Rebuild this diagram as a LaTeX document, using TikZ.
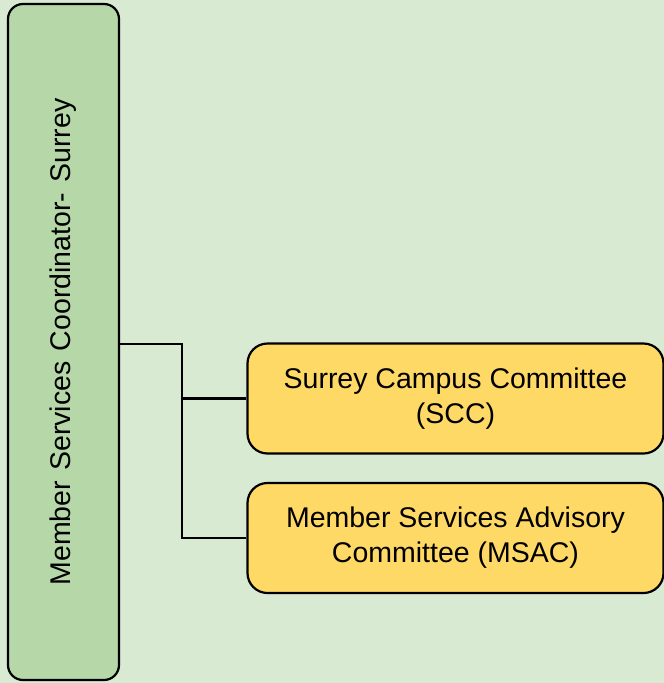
\documentclass[tikz,border=0pt]{standalone}
\usepackage{fontspec}
\setmainfont{Liberation Sans}
\usepackage{xcolor}
\usepackage{tikz}
\usetikzlibrary{calc, positioning}

\definecolor{bgGreen}{HTML}{D9EAD3}
\definecolor{coordGreen}{HTML}{B6D7A8}
\definecolor{cmteYellow}{HTML}{FFD966}

\begin{document}
\begin{tikzpicture}[x=1pt, y=-1pt, line width=2.2pt,
		coordbox/.style={draw, fill=coordGreen, rounded corners=15pt, rotate=90,
			minimum width=676pt, minimum height=111pt, inner sep=0pt,
			font=\fontsize{28.5}{34}\selectfont},
		cmtebox/.style={draw, fill=cmteYellow, rounded corners=20pt,
			minimum width=416pt, minimum height=110pt, inner sep=0pt,
			align=center, font=\fontsize{28.5}{35}\selectfont}]
			\def\picW{664};
			\def\picH{683};
			\def\wgap{\hspace{0.36em}};

			\fill[bgGreen] (0,0) rectangle (\picW,\picH);
			\useasboundingbox (0,0) rectangle (\picW,\picH);

			\begin{scope}
				\node[coordbox] (coord) at (63.5,342) {Member\wgap Services\wgap Coordinator-\wgap Surrey};
			\end{scope}

			\begin{scope}
				\node[cmtebox] (scc) at (455.5,398.5) {Surrey Campus Committee\\(SCC)};
				\node[cmtebox] (msac) at (455.5,538) {Member Services Advisory\\Committee (MSAC)};
			\end{scope}

			\begin{scope}
				\coordinate (fork) at (182,344);
				\draw (coord.south |- fork) -- (fork) |- (scc.west);
				\draw (fork) |- (msac.west);
			\end{scope}
		\end{tikzpicture}
\end{document}
